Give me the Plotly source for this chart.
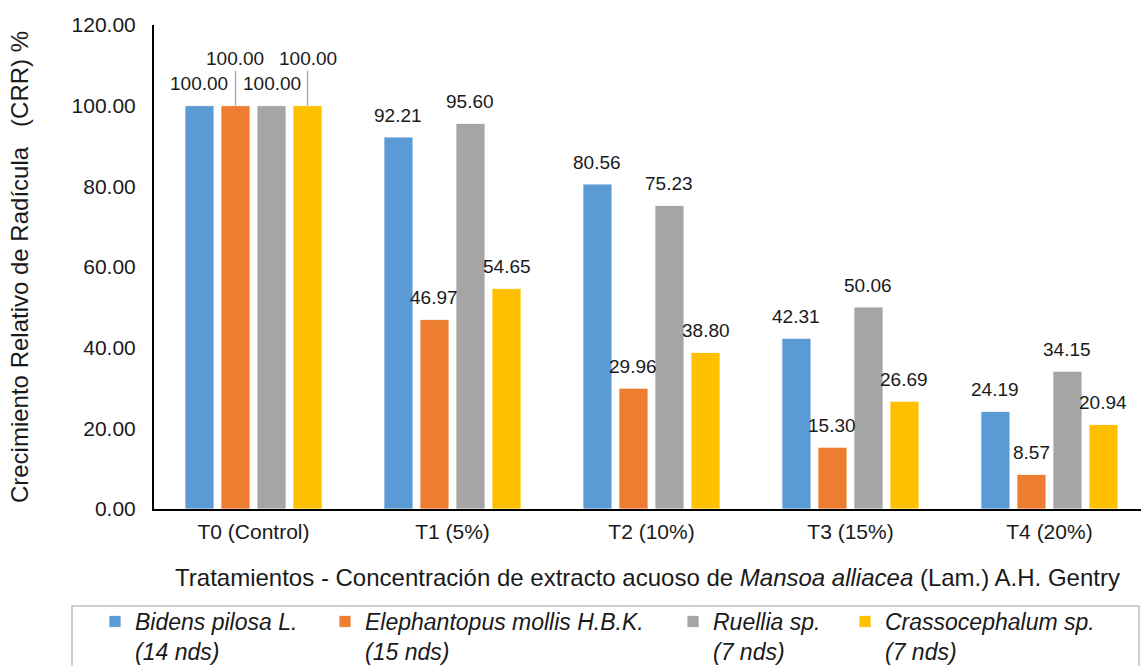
import plotly.graph_objects as go

# ---- data ---------------------------------------------------------------
categories = ["T0 (Control)", "T1 (5%)", "T2 (10%)", "T3 (15%)", "T4 (20%)"]

species_names = [
    "Bidens pilosa L.",
    "Elephantopus mollis H.B.K.",
    "Ruellia sp.",
    "Crassocephalum sp.",
]
species_counts = ["(14 nds)", "(15 nds)", "(7 nds)", "(7 nds)"]

bidens = [100.00, 92.21, 80.56, 42.31, 24.19]
elephantopus = [100.00, 46.97, 29.96, 15.30, 8.57]
ruellia = [100.00, 95.60, 75.23, 50.06, 34.15]
crassocephalum = [100.00, 54.65, 38.80, 26.69, 20.94]

series = [bidens, elephantopus, ruellia, crassocephalum]
colors = ["#5B9BD5", "#ED7D31", "#A5A5A5", "#FFC000"]

# ---- layout geometry ----------------------------------------------------
W, H = 1141, 666
M_L, M_R, M_T, M_B = 154, 0, 25, 157
X_RANGE = [-0.5, 4.46]
BARGAP = 0.276
BARGROUPGAP = 0.194

plot_w = W - M_L - M_R
plot_h = H - M_T - M_B
px_per_cat = plot_w / (X_RANGE[1] - X_RANGE[0])
slot = px_per_cat * (1 - BARGAP) / len(series)


def px_to_paper_x(px):
    return (px - M_L) / plot_w


def px_to_paper_y(py):
    return (H - M_B - py) / plot_h


FONT = "Liberation Sans, Arial, sans-serif"
TXT = "#1a1a1a"

fig = go.Figure()

legend_ids = ["legend", "legend2", "legend3", "legend4"]
for i, (vals, col) in enumerate(zip(series, colors)):
    fig.add_trace(go.Bar(
        x=categories,
        y=vals,
        name=f"<i>{species_names[i]}<br>{species_counts[i]}</i>",
        marker=dict(color=col, line=dict(color="rgba(255,255,255,0.8)", width=1)),
        legend=legend_ids[i],
        hoverinfo="skip",
    ))

# ---- value labels -------------------------------------------------------
# In the control group two labels are lifted and linked by a leader line.
lifted = {(0, 1), (0, 3)}
for i, vals in enumerate(series):
    xshift = (i - (len(series) - 1) / 2) * slot
    for j, v in enumerate(vals):
        if (j, i) in lifted:
            fig.add_annotation(
                x=categories[j], y=v, xshift=xshift,
                text=f"{v:.2f}", showarrow=True,
                arrowhead=0, arrowwidth=1.3, arrowcolor="#A6A6A6",
                ax=0, ay=-47, standoff=0,
                font=dict(family=FONT, size=19, color=TXT),
            )
        else:
            fig.add_annotation(
                x=categories[j], y=v, xshift=xshift, yshift=22,
                text=f"{v:.2f}", showarrow=False,
                font=dict(family=FONT, size=19, color=TXT),
            )

# ---- legend frame -------------------------------------------------------
fig.add_shape(
    type="rect", xref="paper", yref="paper",
    x0=px_to_paper_x(72), x1=px_to_paper_x(1139),
    y0=px_to_paper_y(606), y1=px_to_paper_y(720),
    line=dict(color="#BFBFBF", width=1.5), fillcolor="rgba(0,0,0,0)",
    layer="above",
)

legend_text_px = [135, 365, 713, 885]
legend_style = dict(
    orientation="v",
    xanchor="left", yanchor="top",
    bgcolor="rgba(0,0,0,0)", borderwidth=0,
    font=dict(family=FONT, size=23, color=TXT),
    valign="top", itemwidth=30,
    tracegroupgap=0,
)
layout_legends = {}
for lid, tx in zip(legend_ids, legend_text_px):
    layout_legends[lid] = dict(
        legend_style,
        x=px_to_paper_x(tx - 40),
        y=px_to_paper_y(600),
    )

fig.update_layout(
    width=W, height=H,
    margin=dict(l=M_L, r=M_R, t=M_T, b=M_B, autoexpand=False),
    paper_bgcolor="white", plot_bgcolor="white",
    barmode="group", bargap=BARGAP, bargroupgap=BARGROUPGAP,
    font=dict(family=FONT, color=TXT),
    showlegend=True,
    **layout_legends,
)

fig.update_xaxes(
    type="category",
    range=X_RANGE,
    showline=True, linecolor="#000000", linewidth=2,
    showgrid=False, ticks="", zeroline=False,
    tickfont=dict(family=FONT, size=21, color=TXT),
    ticklabelstandoff=3,
    title=dict(
        text="Tratamientos - Concentración de extracto acuoso de "
             "<i>Mansoa alliacea</i> (Lam.) A.H. Gentry",
        font=dict(family=FONT, size=24, color=TXT),
        standoff=27,
    ),
)

fig.update_yaxes(
    range=[0, 120], dtick=20, tickformat=".2f",
    showline=True, linecolor="#000000", linewidth=2,
    showgrid=False, ticks="", zeroline=False,
    tickfont=dict(family=FONT, size=21, color=TXT),
    ticklabelstandoff=12,
    title=dict(
        text="Crecimiento Relativo de Radícula \u00a0\u00a0(CRR) %",
        font=dict(family=FONT, size=24, color=TXT),
        standoff=36,
    ),
)

fig.write_html("out.html")
